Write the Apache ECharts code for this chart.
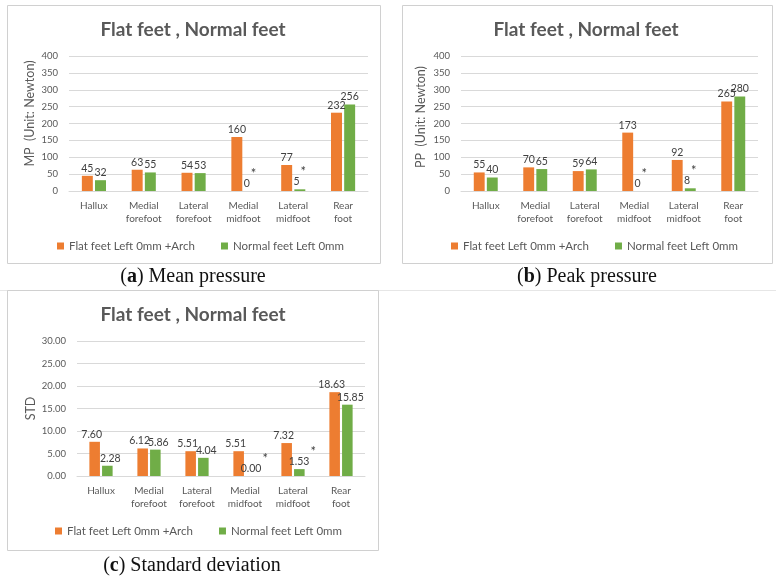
<!DOCTYPE html>
<html>
<head>
<meta charset="utf-8">
<script src="https://cdn.jsdelivr.net/npm/echarts@6/dist/echarts.min.js"></script>
<style>
html,body{margin:0;padding:0;background:#fff;}
#c{width:776px;height:579px;}
</style>
</head>
<body>
<div id="c"></div>
<script>
var categories = ['Hallux', 'Medial\nforefoot', 'Lateral\nforefoot', 'Medial\nmidfoot', 'Lateral\nmidfoot', 'Rear\nfoot'];
var seriesNames = ['Flat feet Left 0mm +Arch', 'Normal feet Left 0mm'];
var mpFlat = [45, 63, 54, 160, 77, 232];
var mpNormal = [32, 55, 53, 0, 5, 256];
var ppFlat = [55, 70, 59, 173, 92, 265];
var ppNormal = [40, 65, 64, 0, 8, 280];
var stdFlat = [7.60, 6.12, 5.51, 5.51, 7.32, 18.63];
var stdNormal = [2.28, 5.86, 4.04, 0.00, 1.53, 15.85];
var significance = ['', '', '', '*', '*', ''];
var chartTitle = 'Flat feet , Normal feet';
var yNames = ['MP  (Unit: Newton)', 'PP  (Unit: Newton)', 'STD'];
var captions = [['a', ' Mean pressure'], ['b', ' Peak pressure'], ['c', ' Standard deviation']];

var ORANGE = '#ED7D31', GREEN = '#70AD47', TXT = '#595959';
var FONT = 'Lato, "Open Sans", sans-serif';

var chart = echarts.init(document.getElementById('c'), null, {renderer: 'canvas'});

var grids = [
  {left: 69, top: 56, width: 299, height: 135},
  {left: 461, top: 56, width: 297, height: 135},
  {left: 77, top: 341, width: 288, height: 135}
];
var yMax = [400, 400, 30];
var yInt = [50, 50, 5];
var decimals = [0, 0, 2];
var nameGaps = [33, 34, 38];
var namePad = [[0, 0, 0, 20], [0, 0, 0, 13], [0, 0, 0, 0]];
var lblShift = [[0, 0], [0, 0], [-3, 3]];

function labelFmt(dec, sigArr, isNormal) {
  return function (p) {
    var t = dec ? p.value.toFixed(dec) : String(p.value);
    if (isNormal && sigArr[p.dataIndex]) {
      return '{v|' + t + '}{s|' + sigArr[p.dataIndex] + '}';
    }
    return '{v|' + t + '}';
  };
}

var richLbl = {
  v: {fontSize: 10.5, color: '#404040', fontFamily: FONT, lineHeight: 22, verticalAlign: 'bottom'},
  s: {fontSize: 13, color: '#404040', fontFamily: FONT, verticalAlign: 'top', padding: [0, 0, 0, 1]}
};

var flatSets = [mpFlat, ppFlat, stdFlat];
var normalSets = [mpNormal, ppNormal, stdNormal];

// measure legend width to centre it
var LEGFS = 11.5;
var cv = document.createElement('canvas').getContext('2d');
cv.font = LEGFS + 'px ' + FONT;
var ITEMW = 7, ITEMGAP = 26;
var legendW = 0;
seriesNames.forEach(function (n, k) {
  legendW += ITEMW + 5 + cv.measureText(n).width + (k ? 0 : ITEMGAP);
});

var xAxes = [], yAxes = [], series = [], legends = [];
var legendCenters = [[196, 245], [590, 245], [194, 530]];
for (var i = 0; i < 3; i++) {
  xAxes.push({
    type: 'category', gridIndex: i, data: categories,
    axisLine: {lineStyle: {color: '#D9D9D9'}},
    axisTick: {show: false},
    axisLabel: {color: TXT, fontSize: 10, fontFamily: FONT, lineHeight: 13, margin: 8, interval: 0}
  });
  (function (dec) {
    yAxes.push({
      type: 'value', gridIndex: i, min: 0, max: yMax[i], interval: yInt[i],
      name: yNames[i], nameLocation: 'middle', nameGap: nameGaps[i],
      nameTextStyle: {color: TXT, fontSize: 12.5, fontFamily: FONT, padding: namePad[i]},
      axisLine: {show: false}, axisTick: {show: false},
      axisLabel: {color: TXT, fontSize: 9.5, fontFamily: FONT, margin: 11,
        formatter: function (v) { return dec ? v.toFixed(dec) : String(v); }},
      splitLine: {lineStyle: {color: '#D9D9D9', width: 1}}
    });
  })(decimals[i]);
  series.push({
    name: seriesNames[0], type: 'bar', xAxisIndex: i, yAxisIndex: i,
    data: flatSets[i], barWidth: '22%', barGap: '20%',
    itemStyle: {color: ORANGE},
    label: {show: true, position: 'top', distance: 2, offset: [lblShift[i][0], 0],
      formatter: labelFmt(decimals[i], significance, false), rich: richLbl}
  });
  series.push({
    name: seriesNames[1], type: 'bar', xAxisIndex: i, yAxisIndex: i,
    data: normalSets[i], barWidth: '22%', barGap: '20%',
    itemStyle: {color: GREEN},
    label: {show: true, position: 'top', distance: 2, offset: [lblShift[i][1], 0],
      formatter: labelFmt(decimals[i], significance, true), rich: richLbl}
  });
  legends.push({
    data: seriesNames, left: Math.round(legendCenters[i][0] - legendW / 2), top: legendCenters[i][1] - 10,
    itemWidth: ITEMW, itemHeight: 7, icon: 'rect', itemGap: ITEMGAP,
    textStyle: {color: TXT, fontSize: LEGFS, fontFamily: FONT}, selectedMode: false
  });
}

var boxes = [[7, 5, 373, 258], [402, 5, 370, 258], [7, 290, 371, 260]];
var titlePos = [[193, 30], [586, 30], [193, 315]];
var capPos = [[193, 277], [587, 277], [192, 566]];
var graphics = [];
boxes.forEach(function (b) {
  graphics.push({type: 'rect', shape: {x: b[0] + 0.5, y: b[1] + 0.5, width: b[2], height: b[3]},
    style: {fill: 'none', stroke: '#D0D0D0', lineWidth: 1}, z: -1});
});
titlePos.forEach(function (p) {
  graphics.push({type: 'text', x: p[0], y: p[1],
    style: {text: chartTitle, align: 'center', verticalAlign: 'middle', fill: TXT,
      font: 'bold 19px ' + FONT}});
});
var SERIF = '"Liberation Serif", "DejaVu Serif", serif';
capPos.forEach(function (p, k) {
  graphics.push({type: 'text', x: p[0], y: p[1],
    style: {text: '({b|' + captions[k][0] + '}){n|' + captions[k][1] + '}', align: 'center', verticalAlign: 'middle',
      fill: '#111', font: '20px ' + SERIF,
      rich: {b: {fontWeight: 'bold', fontSize: 20, fontFamily: SERIF, fill: '#111'},
             n: {fontSize: 20, fontFamily: SERIF, fill: '#111'}}}});
});
graphics.push({type: 'line', shape: {x1: 0, y1: 290.5, x2: 776, y2: 290.5}, style: {stroke: '#E6E6E6', lineWidth: 1}, z: -2});

chart.setOption({
  animation: false,
  backgroundColor: '#fff',
  grid: grids,
  xAxis: xAxes,
  yAxis: yAxes,
  legend: legends,
  series: series,
  graphic: graphics
});
</script>
</body>
</html>
